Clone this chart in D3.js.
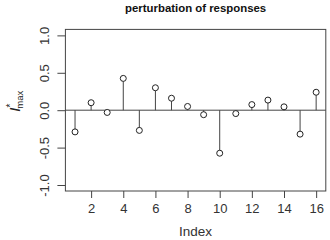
<!DOCTYPE html>
<html><head><meta charset="utf-8">
<script src="https://cdn.jsdelivr.net/npm/d3@7"></script>
<style>body{margin:0;background:#fff}svg{display:block}text{font-family:"Liberation Sans",Arial,sans-serif}</style>
</head><body><div id="chart"></div>
<script>
const indices = [1,2,3,4,5,6,7,8,9,10,11,12,13,14,15,16];
const values = [-0.29,0.10,-0.03,0.425,-0.27,0.30,0.16,0.05,-0.06,-0.575,-0.045,0.075,0.135,0.045,-0.32,0.24];
const xTicks = [2,4,6,8,10,12,14,16];
const yTicks = [-1.0,-0.5,0.0,0.5,1.0];
const titleText = "perturbation of responses";
const xLabel = "Index";

const W=330,H=240;
const svg=d3.select("#chart").append("svg").attr("width",W).attr("height",H);
const L=65.4,R=325.8,T=29.4,B=191;
const x=d3.scaleLinear().domain([0.4,16.6]).range([L,R]);
const y=d3.scaleLinear().domain([-1.08,1.08]).range([B,T]);
const col="#444";

// box
svg.append("rect").attr("x",L).attr("y",T).attr("width",R-L).attr("height",B-T)
  .attr("fill","none").attr("stroke",col).attr("stroke-width",1);

// x axis
const xa=svg.append("g").attr("transform",`translate(0,${B})`)
  .call(d3.axisBottom(x).tickValues(xTicks).tickSize(7).tickPadding(6).tickFormat(d3.format("d")));
xa.select(".domain").remove();
xa.selectAll("line").attr("stroke",col);
xa.selectAll("text").attr("font-size",13).attr("fill","#333");

// y axis
const ya=svg.append("g").attr("transform",`translate(${L},0)`)
  .call(d3.axisLeft(y).tickValues(yTicks).tickSize(8).tickFormat(d3.format(".1f")));
ya.select(".domain").remove();
ya.selectAll("line").attr("stroke",col);
ya.selectAll("text").remove();
ya.selectAll(".tick").append("text")
  .attr("transform","translate(-21,0) rotate(-90)")
  .attr("text-anchor","middle").attr("dy","0.35em")
  .attr("font-size",13).attr("fill","#333")
  .text(d=>d3.format(".1f")(d).replace("\u2212","-"));

// zero line
svg.append("line").attr("x1",L).attr("x2",R).attr("y1",y(0)).attr("y2",y(0))
  .attr("stroke",col).attr("stroke-width",1);

// stems
svg.append("g").selectAll("line").data(indices).join("line")
  .attr("x1",d=>x(d)).attr("x2",d=>x(d))
  .attr("y1",y(0)).attr("y2",(d,i)=>y(values[i]))
  .attr("stroke",col).attr("stroke-width",1);
svg.append("g").selectAll("circle").data(indices).join("circle")
  .attr("cx",d=>x(d)).attr("cy",(d,i)=>y(values[i])).attr("r",3)
  .attr("fill","#fff").attr("stroke","#222").attr("stroke-width",1);

// title
svg.append("text").attr("x",(L+R)/2).attr("y",12).attr("text-anchor","middle")
  .attr("font-size",11.4).attr("font-weight","bold").attr("fill","#111").text(titleText);

// x label
svg.append("text").attr("x",(L+R)/2).attr("y",236).attr("text-anchor","middle")
  .attr("font-size",13.5).attr("fill","#333").text(xLabel);

// y label
const yl=svg.append("text").attr("transform",`translate(20,${y(0)-9}) rotate(-90)`)
  .attr("text-anchor","middle").attr("fill","#222");
yl.append("tspan").attr("font-size",15).attr("font-style","italic").text("I");
yl.append("tspan").attr("font-size",10).attr("dy",-6).text("*");
yl.append("tspan").attr("font-size",9.5).attr("dx",-5).attr("dy",9).text("max");
</script></body></html>
